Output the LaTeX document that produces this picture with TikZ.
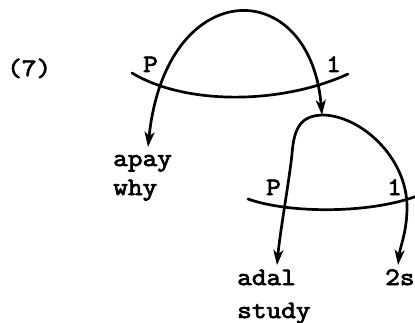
\documentclass[tikz,border=0pt]{standalone}
\usepackage{fontspec}
\newfontfamily\tw[FakeStretch=1.14,FakeBold=3]{Latin Modern Mono}
\usetikzlibrary{arrows.meta}
\begin{document}
\begin{tikzpicture}[x=1pt,y=1pt,
  lbl/.style={font=\tw\fontsize{25}{30}\selectfont, inner sep=0pt, anchor=base west},
  lnk/.style={line width=2.7pt, line cap=round},
  tip/.style={},
  arr/.style={lnk, -{Stealth[length=15pt,width=10pt,inset=4pt]}},
  darr/.style={lnk, {Stealth[length=15pt,width=10pt,inset=4pt]}-{Stealth[length=15pt,width=10pt,inset=4pt]}}]
\useasboundingbox (0,0) rectangle (415,322);
% labels
\node[lbl] (num) at (7,246) {(7)};
\node[lbl] (P1) at (143,250) {P};
\node[lbl] (one1) at (326,250) {1};
\node[lbl] (apay) at (113,156) {apay};
\node[lbl] (why) at (113,127) {why};
\node[lbl] (P2) at (266,127) {P};
\node[lbl] (one2) at (387,127) {1};
\node[lbl] (adal) at (237,37) {adal};
\node[lbl] (study) at (237,4) {study};
\node[lbl] (twos) at (385,37) {2s};
% coordinates
\coordinate (t1) at (148,175);
\coordinate (top2) at (322,207);
\coordinate (t3) at (277,57);
\coordinate (t4) at (398,57);
\coordinate (b1l) at (132,249);
\coordinate (b1r) at (348,248);
\coordinate (b2l) at (248,123);
\coordinate (b2r) at (422,128);
% bars
\draw[lnk] (b1l) .. controls (185,217) and (280,217) .. (b1r);
\draw[lnk] (b2l) .. controls (290,108) and (375,108) .. (b2r);
% top arc
\draw[darr] (t1) .. controls (166,348) and (310,348) .. (top2);
% second arc
\draw[arr] (top2) .. controls (302,206) and (294,196) .. (292,168) .. controls (289,140) and (280,90) .. (t3);
\draw[arr] (top2) .. controls (360,207) and (407,165) .. (407,115) .. controls (407,90) and (400,75) .. (t4);
\end{tikzpicture}
\end{document}
